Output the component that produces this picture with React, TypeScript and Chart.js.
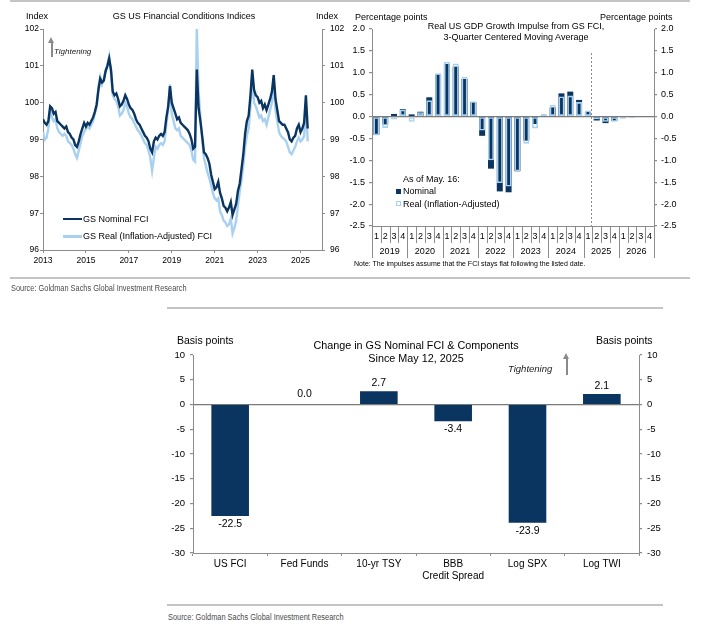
import React, { useEffect, useRef } from "react";
import { Chart, registerables } from "chart.js";

Chart.register(...registerables);

const FONT = "'Liberation Sans', Arial, Helvetica, sans-serif";
const NARROW = "'Liberation Sans Narrow', 'Arial Narrow', 'Liberation Sans', sans-serif";
const NAVY = "#0b3561";
const LIGHT_BLUE = "#a8d0f0";
const AXIS = "#8c8c8c";

// ---------- Chart 1: GS US Financial Conditions Indices (monthly, Jan 2013 - May 2025)
const fciStartYear = 2013;
const fciNominal = [
  99.55, 99.45, 99.4, 99.5, 99.9, 99.85, 99.7, 99.75, 99.5, 99.45, 99.4, 99.35,
  99.3, 99.35, 99.2, 99.15, 99.05, 99.0, 98.85, 98.8, 98.95, 99.15, 99.3, 99.45,
  99.35, 99.45, 99.4, 99.5, 99.6, 99.75, 99.95, 100.35, 100.65, 100.55, 100.6, 100.85,
  101.0, 101.2, 100.9, 100.3, 100.2, 100.25, 100.1, 99.9, 99.95, 100.05, 100.2, 100.1,
  99.95, 99.85, 99.8, 99.7, 99.55, 99.45, 99.4, 99.3, 99.2, 99.1, 99.05, 98.95,
  98.75, 98.65, 98.95, 99.05, 99.0, 99.1, 99.15, 99.1, 99.2, 99.6, 99.9, 100.45,
  100.0, 99.85, 99.7, 99.55, 99.6, 99.45, 99.4, 99.35, 99.3, 99.25, 99.15, 99.0,
  98.75, 98.8, 100.9, 99.85, 99.5, 99.1, 98.65, 98.6, 98.5, 98.35, 98.05, 97.85,
  97.65, 97.7, 97.85, 97.55, 97.4, 97.2, 97.15, 97.05, 97.15, 97.3, 96.95, 97.1,
  97.25, 97.6, 97.8, 98.2, 98.6, 99.15, 99.5, 99.65, 100.2, 100.9, 100.35, 100.2,
  100.15, 100.0, 100.05, 99.85, 99.95, 99.8, 99.95, 100.1, 100.3, 100.75, 100.1, 99.8,
  99.5, 99.45, 99.4, 99.4, 99.3, 99.2, 99.0, 98.95, 99.05, 99.1, 99.3, 99.4,
  99.2, 99.3, 99.45, 100.2, 99.3,
];
const fciReal = [
  99.2, 99.0, 99.05, 99.3, 99.8, 99.6, 99.5, 99.55, 99.3, 99.2, 99.15, 99.1,
  99.15, 99.1, 98.95, 98.9, 98.85, 98.75, 98.6, 98.5, 98.7, 98.9, 99.1, 99.2,
  99.3, 99.35, 99.3, 99.4, 99.5, 99.7, 99.9, 100.45, 100.7, 100.5, 100.65, 100.9,
  101.0, 101.25, 100.85, 100.2, 100.1, 100.05, 99.9, 99.65, 99.7, 99.8, 100.0, 99.9,
  99.7, 99.6, 99.55, 99.45, 99.35, 99.25, 99.2, 99.1, 99.0, 98.9, 98.85, 98.7,
  98.5, 98.15, 98.5, 98.8, 98.75, 98.85, 98.9, 98.85, 98.95, 99.45, 99.8, 100.5,
  99.7, 99.5, 99.3, 99.25, 99.3, 99.1, 99.05, 99.0, 98.95, 98.9, 98.85, 98.7,
  98.45, 98.4, 102.0, 100.3, 99.6, 99.0, 98.5, 98.3, 98.1, 97.95, 97.75, 97.55,
  97.4, 97.35, 97.4, 97.05, 96.95, 96.8, 96.75, 96.65, 96.7, 96.85, 96.45, 96.6,
  96.8, 97.2, 97.6, 97.9, 98.3, 98.8, 99.1, 99.3, 99.9, 100.75, 100.0, 99.9,
  99.75, 99.6, 99.65, 99.5, 99.55, 99.4, 99.6, 99.8, 100.0, 100.6, 99.8, 99.5,
  99.2, 99.1, 99.05, 99.0, 98.95, 98.8, 98.65, 98.6, 98.7, 98.8, 98.95, 99.05,
  98.95, 99.0, 99.1, 99.9, 98.95,
];
const fciYearTicks = [2013, 2015, 2017, 2019, 2021, 2023, 2025];

// ---------- Chart 2: Real US GDP growth impulse (quarterly)
const impulseYears = ["2019", "2020", "2021", "2022", "2023", "2024", "2025", "2026"];
const impulseQuarters = ["1", "2", "3", "4"];
const impulseNominal = [
  -0.42, -0.18, 0.06, 0.17, 0.05, 0.11, 0.44, 0.96,
  1.2, 1.14, 0.86, 0.33, -0.44, -1.19, -1.71, -1.73,
  -1.25, -0.55, -0.17, 0.0, 0.21, 0.53, 0.57, 0.38,
  0.11, -0.09, -0.15, -0.1, -0.02, -0.01, 0.0, 0.0,
];
const impulseReal = [
  -0.43, -0.26, -0.07, 0.16, -0.12, 0.1, 0.37, 0.99,
  1.25, 1.21, 0.91, 0.35, -0.32, -1.0, -1.52, -1.6,
  -1.25, -0.62, -0.27, 0.06, 0.27, 0.46, 0.48, 0.33,
  0.14, -0.06, -0.12, -0.12, -0.05, -0.02, 0.01, 0.01,
];

// ---------- Chart 3: Change in GS Nominal FCI & components
const compCategories: (string | string[])[] = [
  "US FCI",
  "Fed Funds",
  "10-yr TSY",
  ["BBB", "Credit Spread"],
  "Log SPX",
  "Log TWI",
];
const compChange = [-22.5, 0.0, 2.7, -3.4, -23.9, 2.1];

const tickFont = (size: number) => ({ family: FONT, size });

function useChart(build: () => any) {
  const ref = useRef<HTMLCanvasElement>(null);
  useEffect(() => {
    if (!ref.current) return;
    const chart = new Chart(ref.current, build());
    return () => chart.destroy();
  }, []);
  return ref;
}

function fciConfig() {
  const yAxis = (pos: "left" | "right", width: number, pad: number) => ({
    position: pos,
    min: 96,
    max: 102,
    ticks: { stepSize: 1, font: tickFont(8.5), color: "#000", padding: pad },
    grid: { drawOnChartArea: false, tickLength: 3, color: AXIS },
    border: { color: AXIS },
    afterFit: (s: any) => {
      s.width = width;
    },
  });
  return {
    type: "line",
    data: {
      datasets: [
        {
          label: "GS Nominal FCI",
          data: fciNominal.map((v, i) => ({ x: fciStartYear + i / 12, y: v })),
          borderColor: NAVY,
          borderWidth: 2.4,
          pointRadius: 0,
          tension: 0,
        },
        {
          label: "GS Real (Inflation-Adjusted) FCI",
          data: fciReal.map((v, i) => ({ x: fciStartYear + i / 12, y: v })),
          borderColor: LIGHT_BLUE,
          borderWidth: 2.4,
          pointRadius: 0,
          tension: 0,
        },
      ],
    },
    options: {
      animation: false,
      responsive: false,
      maintainAspectRatio: false,
      layout: { padding: { top: 29, left: 0, right: 0, bottom: 0 } },
      plugins: { legend: { display: false }, tooltip: { enabled: false } },
      scales: {
        x: {
          type: "linear",
          min: 2013,
          max: 2026,
          afterBuildTicks: (s: any) => {
            s.ticks = fciYearTicks.map((v) => ({ value: v }));
          },
          ticks: {
            font: tickFont(8.5),
            color: "#000",
            padding: 3,
            maxRotation: 0,
            autoSkip: false,
            callback: (v: any) => String(v),
          },
          grid: { drawOnChartArea: false, tickLength: 3, color: AXIS },
          border: { color: AXIS },
          afterFit: (s: any) => {
            s.height = 25;
          },
        },
        y: yAxis("left", 43, 1),
        y2: yAxis("right", 28, 5),
      },
    },
  };
}

const impulseSeparators = {
  id: "impulseSeparators",
  afterDraw(chart: any) {
    const { ctx, chartArea, scales } = chart;
    const xs = scales.x;
    const n = impulseNominal.length;
    ctx.save();
    ctx.strokeStyle = AXIS;
    ctx.lineWidth = 1;
    for (let i = 0; i <= n; i++) {
      const px = Math.round(xs.getPixelForValue(i - 0.5)) + 0.5;
      const len = i % impulseQuarters.length === 0 ? 32 : 17;
      ctx.beginPath();
      ctx.moveTo(px, chartArea.bottom);
      ctx.lineTo(px, chartArea.bottom + len);
      ctx.stroke();
    }
    ctx.fillStyle = "#000";
    ctx.font = `9px ${FONT}`;
    ctx.textAlign = "center";
    ctx.textBaseline = "middle";
    impulseYears.forEach((y, k) => {
      const px = xs.getPixelForValue(k * impulseQuarters.length + 1.5);
      ctx.fillText(y, px, chartArea.bottom + 26);
    });
    // dashed "as of" divider, just after 2025 Q1
    const dx = Math.round(xs.getPixelForValue(24.3)) + 0.5;
    ctx.setLineDash([2, 2]);
    ctx.strokeStyle = "#8c8c8c";
    ctx.beginPath();
    ctx.moveTo(dx, chartArea.top + 24);
    ctx.lineTo(dx, chartArea.bottom);
    ctx.stroke();
    ctx.restore();
  },
};

function impulseConfig() {
  const labels = impulseYears.flatMap((y) => impulseQuarters.map((q) => `${y} Q${q}`));
  const yAxis = (pos: "left" | "right", width: number, zeroLine: boolean) => ({
    position: pos,
    min: -2.5,
    max: 2.0,
    ticks: {
      stepSize: 0.5,
      font: tickFont(9),
      color: "#000",
      padding: 4,
      callback: (v: any) => Number(v).toFixed(1),
    },
    grid: {
      drawOnChartArea: zeroLine,
      tickLength: 3,
      tickColor: AXIS,
      lineWidth: 1.2,
      color: (c: any) => (c.tick && Math.abs(c.tick.value) < 1e-9 ? "#7a7a7a" : "rgba(0,0,0,0)"),
    },
    border: { color: AXIS },
    afterFit: (s: any) => {
      s.width = width;
    },
  });
  return {
    type: "bar",
    data: {
      labels,
      datasets: [
        {
          label: "Real (Inflation-Adjusted)",
          data: impulseReal,
          backgroundColor: "rgba(255,255,255,0)",
          borderColor: LIGHT_BLUE,
          borderWidth: 1.6,
          borderSkipped: false,
          grouped: false,
          barPercentage: 0.68,
          categoryPercentage: 1,
        },
        {
          label: "Nominal",
          data: impulseNominal,
          backgroundColor: NAVY,
          grouped: false,
          barPercentage: 0.68,
          categoryPercentage: 1,
        },
      ],
    },
    options: {
      animation: false,
      responsive: false,
      maintainAspectRatio: false,
      layout: { padding: { top: 29, left: 0, right: 0, bottom: 0 } },
      plugins: { legend: { display: false }, tooltip: { enabled: false } },
      scales: {
        x: {
          ticks: {
            font: tickFont(9),
            color: "#000",
            padding: 5,
            maxRotation: 0,
            autoSkip: false,
            callback: (_v: any, i: number) => impulseQuarters[i % impulseQuarters.length],
          },
          grid: { display: false, drawTicks: false },
          border: { color: AXIS },
          afterFit: (s: any) => {
            s.height = 49;
          },
        },
        y: yAxis("left", 32, true),
        y2: yAxis("right", 56, false),
      },
    },
    plugins: [impulseSeparators],
  };
}

const compValueLabels = {
  id: "compValueLabels",
  afterDatasetsDraw(chart: any) {
    const { ctx } = chart;
    const meta = chart.getDatasetMeta(0);
    ctx.save();
    ctx.fillStyle = "#000";
    ctx.font = `10.5px ${FONT}`;
    ctx.textAlign = "center";
    ctx.textBaseline = "middle";
    meta.data.forEach((el: any, i: number) => {
      const v = compChange[i];
      const y = v < 0 ? el.y + 8 : v === 0 ? el.y - 10 : el.y - 8;
      ctx.fillText(v.toFixed(1), el.x, y);
    });
    ctx.restore();
  },
};

function compConfig() {
  const yAxis = (pos: "left" | "right", width: number, zeroLine: boolean) => ({
    position: pos,
    min: -30,
    max: 10,
    ticks: { stepSize: 5, font: tickFont(9.5), color: "#000", padding: 5 },
    grid: {
      drawOnChartArea: zeroLine,
      tickLength: 3,
      tickColor: AXIS,
      lineWidth: 1.2,
      color: (c: any) => (c.tick && c.tick.value === 0 ? "#7a7a7a" : "rgba(0,0,0,0)"),
    },
    border: { color: AXIS },
    afterFit: (s: any) => {
      s.width = width;
    },
  });
  return {
    type: "bar",
    data: {
      labels: compCategories,
      datasets: [
        {
          label: "Change since May 12, 2025",
          data: compChange,
          backgroundColor: NAVY,
          barPercentage: 0.506,
          categoryPercentage: 1,
        },
      ],
    },
    options: {
      animation: false,
      responsive: false,
      maintainAspectRatio: false,
      layout: { padding: { top: 35, left: 0, right: 0, bottom: 0 } },
      plugins: { legend: { display: false }, tooltip: { enabled: false } },
      scales: {
        x: {
          ticks: { font: tickFont(10), color: "#000", padding: 2, maxRotation: 0, autoSkip: false },
          grid: { offset: true, drawOnChartArea: false, tickLength: 3, color: AXIS },
          border: { color: AXIS },
          afterFit: (s: any) => {
            s.height = 37;
          },
        },
        y: yAxis("left", 33, true),
        y2: yAxis("right", 71, false),
      },
    },
    plugins: [compValueLabels],
  };
}

type TProps = {
  x: number;
  cy: number;
  size: number;
  children: React.ReactNode;
  center?: boolean;
  italic?: boolean;
  family?: string;
  color?: string;
  squeeze?: number;
};
function T({ x, cy, size, children, center, italic, family, color, squeeze }: TProps) {
  const transforms: string[] = [];
  if (center) transforms.push("translateX(-50%)");
  if (squeeze) transforms.push(`scaleX(${squeeze})`);
  return (
    <div
      style={{
        position: "absolute",
        left: x,
        top: cy - size / 2,
        fontSize: size,
        lineHeight: `${size}px`,
        fontFamily: family || FONT,
        fontStyle: italic ? "italic" : "normal",
        color: color || "#000",
        whiteSpace: "nowrap",
        transform: transforms.length ? transforms.join(" ") : undefined,
        transformOrigin: "left center",
      }}
    >
      {children}
    </div>
  );
}

function Arrow({ x, top, bottom }: { x: number; top: number; bottom: number }) {
  return (
    <>
      <div
        style={{
          position: "absolute",
          left: x - 3.5,
          top,
          width: 0,
          height: 0,
          borderLeft: "3.5px solid transparent",
          borderRight: "3.5px solid transparent",
          borderBottom: "6px solid #8a8a8a",
        }}
      />
      <div
        style={{
          position: "absolute",
          left: x - 1,
          top: top + 6,
          width: 2,
          height: bottom - top - 6,
          background: "#8a8a8a",
        }}
      />
    </>
  );
}

function Rule({ x, y, w }: { x: number; y: number; w: number }) {
  return (
    <div style={{ position: "absolute", left: x, top: y, width: w, height: 2, background: "#c4c4c4" }} />
  );
}

export default function App() {
  const fciRef = useChart(fciConfig);
  const impRef = useChart(impulseConfig);
  const compRef = useChart(compConfig);

  return (
    <div
      style={{
        position: "absolute",
        left: 0,
        top: 0,
        width: 710,
        height: 630,
        background: "#fff",
        fontFamily: FONT,
        overflow: "hidden",
      }}
    >
      <Rule x={10} y={0} w={680} />

      {/* Chart 1 */}
      <canvas ref={fciRef} width={350} height={275} style={{ position: "absolute", left: 0, top: 0 }} />
      <T x={26} cy={16.5} size={9}>Index</T>
      <T x={184} cy={16.5} size={9} center>GS US Financial Conditions Indices</T>
      <T x={316} cy={16.5} size={9}>Index</T>
      <Arrow x={51.5} top={37} bottom={57} />
      <T x={54} cy={52} size={8} italic color="#222">Tightening</T>
      <div style={{ position: "absolute", left: 63, top: 217.8, width: 19, height: 2.5, background: NAVY }} />
      <T x={83} cy={219} size={9}>GS Nominal FCI</T>
      <div style={{ position: "absolute", left: 63, top: 235, width: 19, height: 2.5, background: LIGHT_BLUE }} />
      <T x={83} cy={236.3} size={9}>GS Real (Inflation-Adjusted) FCI</T>

      {/* Chart 2 */}
      <canvas ref={impRef} width={370} height={275} style={{ position: "absolute", left: 340, top: 0 }} />
      <T x={355} cy={17.3} size={9}>Percentage points</T>
      <T x={600} cy={17.3} size={9}>Percentage points</T>
      <T x={516} cy={26.7} size={9} center>Real US GDP Growth Impulse from GS FCI,</T>
      <T x={516} cy={37.7} size={9} center>3-Quarter Centered Moving Average</T>
      <T x={403} cy={179} size={9}>As of May. 16:</T>
      <div style={{ position: "absolute", left: 396, top: 189, width: 5, height: 5, background: NAVY }} />
      <T x={403} cy={191.7} size={9}>Nominal</T>
      <div
        style={{
          position: "absolute",
          left: 396,
          top: 201,
          width: 3.4,
          height: 3.4,
          border: `1.5px solid ${LIGHT_BLUE}`,
        }}
      />
      <T x={403} cy={204.3} size={9}>Real (Inflation-Adjusted)</T>
      <T x={354} cy={263.3} size={7}>Note: The impulses assume that the FCI stays flat following the listed date.</T>

      <Rule x={10} y={276.5} w={680} />
      <T x={11} cy={288} size={8.5} family={NARROW} color="#4a4a4a" squeeze={0.87}>
        Source: Goldman Sachs Global Investment Research
      </T>

      {/* Chart 3 */}
      <Rule x={167} y={306.5} w={496} />
      <canvas ref={compRef} width={550} height={270} style={{ position: "absolute", left: 160, top: 320 }} />
      <T x={177} cy={340.7} size={10.5}>Basis points</T>
      <T x={596} cy={340.7} size={10.5}>Basis points</T>
      <T x={416} cy={345} size={10.8} center>Change in GS Nominal FCI &amp; Components</T>
      <T x={416} cy={358.3} size={10.8} center>Since May 12, 2025</T>
      <T x={508} cy={369} size={9.5} italic color="#222">Tightening</T>
      <Arrow x={566.7} top={353} bottom={375} />
      <Rule x={167} y={604} w={496} />
      <T x={168} cy={617} size={8.5} family={NARROW} color="#4a4a4a" squeeze={0.87}>
        Source: Goldman Sachs Global Investment Research
      </T>
    </div>
  );
}
